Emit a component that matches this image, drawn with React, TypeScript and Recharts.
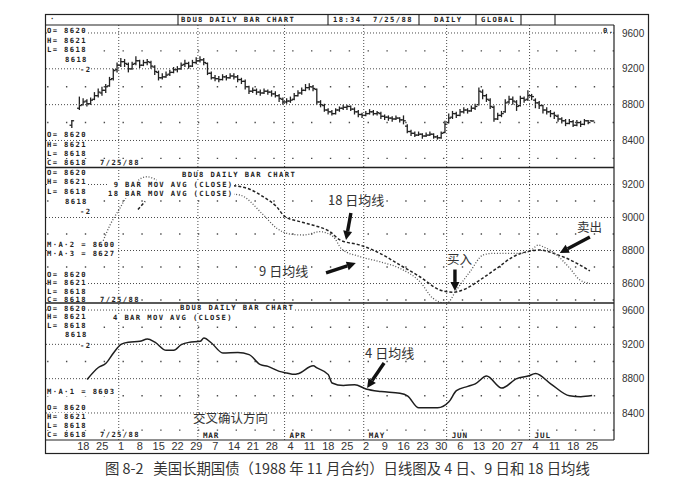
import React from 'react';
import { ComposedChart, Bar, Line, XAxis, YAxis, ReferenceLine } from 'recharts';

// ---------- DATA ----------
// trading-day index: 0 = Mon 18 Jan 1988, 135 = Mon 25 Jul 1988
const tradeDays = [-3, -1, ...Array.from({ length: 136 }, (_, k) => k)];

const opens = [
  8570, 8760,
  8800, 8840, 8810, 8860, 8900, 8930, 8960, 9010, 9090, 9190,
  9240, 9280, 9250, 9200, 9260, 9290, 9240, 9270, 9270, 9220,
  9160, 9100, 9110, 9140, 9160, 9190, 9200, 9250, 9260, 9230,
  9270, 9290, 9300, 9260, 9150, 9100, 9090, 9080, 9110, 9100,
  9120, 9110, 9080, 9060, 9000, 8950, 8960, 8940, 8930, 8950,
  8940, 8920, 8900, 8860, 8830, 8840, 8860, 8900, 8930, 8960,
  8990, 9000, 8970, 8830, 8790, 8740, 8720, 8700, 8740, 8760,
  8770, 8780, 8750, 8720, 8690, 8680, 8700, 8720, 8700, 8700,
  8670, 8660, 8650, 8640, 8650, 8630, 8560, 8500, 8480, 8460,
  8470, 8450, 8460, 8470, 8440, 8430, 8490, 8600, 8660, 8700,
  8680, 8720, 8740, 8730, 8760, 8800, 8940, 8900, 8850, 8770,
  8640, 8680, 8720, 8830, 8860, 8830, 8790, 8870, 8860, 8900,
  8850, 8820, 8790, 8740, 8720, 8700, 8670, 8640, 8620, 8590,
  8610, 8570, 8600, 8580, 8620, 8620,
];
const highs = [
  8630, 8890,
  8870, 8860, 8880, 8940, 8980, 9000, 9030, 9110, 9200, 9270,
  9320, 9310, 9270, 9280, 9340, 9300, 9300, 9310, 9290, 9240,
  9180, 9150, 9170, 9190, 9220, 9230, 9270, 9300, 9280, 9300,
  9330, 9340, 9320, 9270, 9170, 9130, 9120, 9140, 9130, 9150,
  9150, 9130, 9100, 9080, 9010, 8990, 8980, 8970, 8980, 8970,
  8960, 8950, 8920, 8880, 8870, 8890, 8930, 8960, 8990, 9030,
  9040, 9020, 8980, 8850, 8810, 8760, 8740, 8760, 8780, 8800,
  8800, 8790, 8770, 8740, 8710, 8730, 8750, 8740, 8730, 8720,
  8690, 8680, 8670, 8680, 8660, 8680, 8580, 8520, 8500, 8500,
  8480, 8490, 8500, 8480, 8460, 8500, 8620, 8700, 8730, 8720,
  8750, 8770, 8760, 8790, 8810, 8990, 8970, 8920, 8870, 8790,
  8710, 8730, 8860, 8900, 8890, 8850, 8900, 8890, 8960, 8920,
  8870, 8840, 8800, 8770, 8740, 8720, 8690, 8660, 8640, 8640,
  8630, 8630, 8620, 8640, 8630, 8621,
];
const lows = [
  8540, 8740,
  8790, 8780, 8800, 8850, 8880, 8900, 8930, 9000, 9070, 9160,
  9220, 9220, 9160, 9190, 9240, 9210, 9230, 9240, 9200, 9130,
  9070, 9080, 9100, 9120, 9150, 9160, 9190, 9220, 9200, 9220,
  9250, 9270, 9240, 9130, 9080, 9060, 9050, 9070, 9070, 9090,
  9080, 9050, 9030, 8970, 8920, 8930, 8910, 8900, 8920, 8910,
  8890, 8880, 8830, 8800, 8810, 8820, 8850, 8890, 8910, 8950,
  8960, 8950, 8800, 8770, 8720, 8690, 8680, 8690, 8720, 8740,
  8740, 8730, 8690, 8660, 8650, 8670, 8690, 8680, 8680, 8640,
  8630, 8620, 8610, 8630, 8600, 8580, 8480, 8450, 8440, 8450,
  8420, 8440, 8450, 8420, 8410, 8420, 8480, 8590, 8640, 8650,
  8670, 8700, 8700, 8720, 8740, 8790, 8860, 8830, 8750, 8610,
  8630, 8660, 8710, 8810, 8800, 8730, 8780, 8820, 8840, 8850,
  8760, 8750, 8700, 8690, 8660, 8640, 8610, 8590, 8560, 8580,
  8550, 8560, 8550, 8570, 8580, 8618,
];
const closes = [
  8620, 8790,
  8830, 8810, 8850, 8900, 8940, 8960, 9000, 9080, 9180, 9240,
  9280, 9260, 9200, 9250, 9290, 9240, 9270, 9280, 9230, 9170,
  9100, 9110, 9130, 9160, 9190, 9200, 9240, 9260, 9230, 9270,
  9290, 9300, 9270, 9150, 9100, 9090, 9080, 9110, 9100, 9120,
  9110, 9080, 9060, 9000, 8950, 8960, 8940, 8930, 8950, 8940,
  8920, 8900, 8870, 8830, 8840, 8850, 8900, 8930, 8960, 8990,
  9000, 8980, 8830, 8800, 8740, 8720, 8700, 8740, 8760, 8770,
  8780, 8750, 8720, 8690, 8680, 8700, 8720, 8700, 8710, 8670,
  8660, 8650, 8640, 8650, 8630, 8620, 8500, 8480, 8460, 8470,
  8450, 8460, 8470, 8440, 8430, 8480, 8580, 8650, 8700, 8680,
  8720, 8740, 8730, 8760, 8780, 8950, 8900, 8860, 8780, 8640,
  8680, 8700, 8820, 8860, 8840, 8780, 8870, 8850, 8900, 8890,
  8820, 8790, 8740, 8720, 8700, 8680, 8640, 8620, 8590, 8610,
  8570, 8600, 8580, 8620, 8600, 8618,
];

// 4-bar moving average
const ma4Days = [1, 4, 6, 8, 10, 12, 15, 17, 19, 22, 24, 26, 28, 31, 32, 34, 37, 41, 44, 47, 49, 52, 54, 56, 57, 61, 62, 65, 66, 69, 72, 75, 79, 84, 86, 89, 94, 97, 99, 102, 104, 107, 111, 115, 118, 120, 124, 129, 132, 135];
const ma4Values = [8790, 8930, 8980, 9100, 9200, 9225, 9235, 9262, 9225, 9130, 9130, 9196, 9223, 9235, 9274, 9216, 9100, 9106, 9080, 8963, 8943, 8885, 8866, 8850, 8858, 8950, 8925, 8847, 8750, 8720, 8730, 8680, 8650, 8630, 8600, 8460, 8460, 8530, 8660, 8710, 8740, 8830, 8690, 8800, 8830, 8860, 8740, 8600, 8590, 8603];

// 9-bar moving average (middle panel; hidden behind the legend text in between)
const ma9Days = [5, 7.1, 9.7, 12, 14.2, 16.8, 19.5, 20, 39.8, 41.6, 47.8, 51.3, 54.8, 58.4, 62.8, 66.3, 68.6, 73.4, 78.7, 84, 89.3, 92.8, 96.4, 99, 102.6, 106.1, 108.8, 112.3, 115.8, 118.9, 120.7, 122, 125.6, 129.1, 131.8, 134.4];
const ma9Values = [8844, 8955, 9056, 9147, 9217, 9247, 9227, null, 9141, 9136, 9015, 8935, 8900, 8894, 8914, 8884, 8808, 8763, 8732, 8692, 8611, 8510, 8480, 8561, 8672, 8773, 8783, 8783, 8783, 8803, 8833, 8823, 8773, 8692, 8621, 8601];

// 18-bar moving average
const ma18Days = [14.5, 16.4, 17, 39.8, 44.3, 47.7, 51.3, 53.5, 57.5, 61.5, 65.4, 68.1, 73.4, 78.7, 84, 89.3, 94.6, 98.1, 101.7, 105.2, 109.7, 114.1, 118.5, 121.1, 124.7, 128.2, 131.8, 134.4];
const ma18Values = [9049, 9098, null, 9193, 9170, 9126, 9065, 9005, 8975, 8950, 8915, 8864, 8833, 8783, 8712, 8641, 8561, 8547, 8571, 8621, 8692, 8763, 8797, 8803, 8783, 8753, 8712, 8676];

// x-axis: Mondays
const weekTicks = [0, 5, 10, 15, 20, 25, 30, 35, 40, 45, 50, 55, 60, 65, 70, 75, 80, 85, 90, 95, 100, 105, 110, 115, 120, 125, 130, 135];
const weekLabels = ['18', '25', '1', '8', '15', '22', '29', '7', '14', '21', '28', '4', '11', '18', '25', '2', '9', '16', '23', '30', '6', '13', '20', '27', '4', '11', '18', '25'];
const monthStarts = [10, 31, 54, 75, 97, 119];
const monthNames = ['', 'MAR', 'APR', 'MAY', 'JUN', 'JUL'];

// right axis ticks
const priceTicksWide = [8400, 8800, 9200, 9600];
const minorWide = [8200, 8600, 9000, 9400];
const priceTicksMid = [8600, 8800, 9000, 9200];
const minorMid = [8500, 8700, 8900, 9100];

// annotation arrows (data coordinates): panel, tail, head
const arrows = [
  { panel: 2, from: { x: 71, y: 9027 }, to: { x: 69.7, y: 8864 } },
  { panel: 2, from: { x: 64.4, y: 8664 }, to: { x: 72.3, y: 8724 } },
  { panel: 2, from: { x: 98.6, y: 8685 }, to: { x: 98.6, y: 8555 } },
  { panel: 2, from: { x: 134.4, y: 8882 }, to: { x: 126.4, y: 8785 } },
  { panel: 3, from: { x: 79.8, y: 8983 }, to: { x: 75.3, y: 8691 } },
];

// ---------- BUILD ----------
const ohlcData = tradeDays.map((d, k) => ({ i: d, open: opens[k], high: highs[k], low: lows[k], close: closes[k] }));
const ma4Data = ma4Days.map((d, k) => ({ i: d, v: ma4Values[k] }));
const ma9Data = ma9Days.map((d, k) => ({ i: d, v: ma9Values[k] }));
const ma18Data = ma18Days.map((d, k) => ({ i: d, v: ma18Values[k] }));

const X_DOMAIN: [number, number] = [-9.9, 140.8];
const PLOT_LEFT = 46;
const PLOT_W = 568;
const AXIS_W = 40;
const M0 = { top: 0, right: 0, bottom: 0, left: 0 };
const INK = '#222';
const GRID = '#4a4a4a';
const MONO = '"DejaVu Sans Mono", monospace';

const OhlcShape = (p: any) => {
  const { x, y, width, height, payload } = p;
  if (!payload || x == null || y == null) return <g />;
  const top = Math.min(y, y + height);
  const bot = Math.max(y, y + height);
  const cx = x + width / 2;
  const span = payload.high - payload.low;
  const pos = (v: number) => (span > 0 ? top + ((payload.high - v) / span) * (bot - top) : top);
  const oy = pos(payload.open);
  const cy = pos(payload.close);
  return (
    <g stroke={INK} strokeWidth={1.3}>
      <line x1={cx} x2={cx} y1={top} y2={Math.max(bot, top + 1)} />
      <line x1={cx - 2.3} x2={cx} y1={oy} y2={oy} />
      <line x1={cx} x2={cx + 2.3} y1={cy} y2={cy} />
    </g>
  );
};

const ArrowShape = (p: any) => {
  const { x1, y1, x2, y2 } = p;
  const dx = x2 - x1;
  const dy = y2 - y1;
  const len = Math.hypot(dx, dy) || 1;
  const ux = dx / len;
  const uy = dy / len;
  const hl = 9;
  const hw = 4.5;
  const bx = x2 - ux * hl;
  const by = y2 - uy * hl;
  return (
    <g>
      <line x1={x1} y1={y1} x2={bx} y2={by} stroke="#111" strokeWidth={3.4} />
      <polygon points={`${x2},${y2} ${bx - uy * hw},${by + ux * hw} ${bx + uy * hw},${by - ux * hw}`} fill="#111" />
    </g>
  );
};

function grid(major: number[], minor: number[], monthLabels: boolean) {
  const els: any[] = [];
  minor.forEach((v) =>
    els.push(<ReferenceLine key={'mn' + v} y={v} stroke={GRID} strokeWidth={1.4} strokeDasharray="1.4 17.45" />)
  );
  major.forEach((v) =>
    els.push(<ReferenceLine key={'mj' + v} y={v} stroke={GRID} strokeWidth={1} strokeDasharray="1 2" />)
  );
  monthStarts.forEach((m, k) =>
    els.push(
      <ReferenceLine
        key={'mo' + m}
        x={m - 0.6}
        stroke={GRID}
        strokeWidth={1}
        strokeDasharray="1 2"
        label={
          monthLabels && monthNames[k]
            ? (lp: any) => {
                const vb = lp.viewBox || {};
                return (
                  <text
                    x={(vb.x || 0) + 5}
                    y={(vb.y || 0) + (vb.height || 0) - 2.5}
                    fontFamily={MONO}
                    fontSize={7.6}
                    fontWeight="bold"
                    letterSpacing={0.9}
                    fill={INK}
                  >
                    {monthNames[k]}
                  </text>
                );
              }
            : undefined
        }
      />
    )
  );
  return els;
}

function arrowLines(panel: number) {
  return arrows
    .filter((a) => a.panel === panel)
    .map((a, k) => (
      <ReferenceLine
        key={'ar' + panel + k}
        segment={[a.from, a.to]}
        ifOverflow="visible"
        shape={ArrowShape}
      />
    ));
}

const yTick = { fontSize: 10, fill: '#333', fontFamily: '"Liberation Sans", Arial, sans-serif' };

const monoBase: React.CSSProperties = {
  position: 'absolute',
  fontFamily: MONO,
  fontSize: 7.2,
  fontWeight: 'bold',
  letterSpacing: '1.38px',
  lineHeight: '8px',
  height: 8,
  color: INK,
  whiteSpace: 'pre',
  background: '#fff',
};

const monoTexts: [string, number, number][] = [
  // header
  ['·', 50, 19],
  ['BDU8 DAILY BAR CHART', 181, 19.5],
  ['18:34  7/25/88', 333, 19.5],
  ['DAILY', 434, 19.5],
  ['GLOBAL', 481, 19.5],
  // panel 1
  ['O= 8620', 47, 31],
  ['H= 8621', 47, 41],
  ['L= 8618', 47, 50],
  ['8618', 65, 60],
  ['-2', 80, 70],
  ['O= 8620', 47, 135],
  ['H= 8621', 47, 145],
  ['L= 8618', 47, 154],
  ['C= 8618', 47, 163],
  ['7/25/88', 100, 163],
  // panel 2
  ['O= 8620', 47, 172.5],
  ['H= 8621', 47, 182],
  ['L= 8618', 47, 192],
  ['8618', 65, 202],
  ['-2', 80, 212],
  ['BDU8 DAILY BAR CHART', 182, 175],
  [' 9 BAR MOV AVG (CLOSE)', 108, 184.5],
  ['18 BAR MOV AVG (CLOSE)', 108, 194],
  ['M·A·2 = 8600', 47, 245],
  ['M·A·3 = 8627', 47, 254],
  ['O= 8620', 47, 274.5],
  ['H= 8621', 47, 283],
  ['L= 8618', 47, 291.5],
  ['C= 8618', 47, 300],
  ['7/25/88', 100, 300],
  // panel 3
  ['O= 8620', 47, 308.5],
  ['H= 8621', 47, 317],
  ['L= 8618', 47, 325.5],
  ['8618', 65, 335],
  ['-2', 80, 346],
  ['BDU8 DAILY BAR CHART', 180, 308],
  ['4 BAR MOV AVG (CLOSE)', 113, 318],
  ['M·A·1 = 8603', 47, 392],
  ['O= 8620', 47, 408],
  ['H= 8621', 47, 417],
  ['L= 8618', 47, 426],
  ['C= 8618', 47, 435],
  ['7/25/88', 100, 435],
];

const cjkTexts: [string, number, number, number][] = [
  ['18 日均线', 328, 200, 13],
  ['9 日均线', 259, 271, 13],
  ['买入', 447, 259, 12.5],
  ['卖出', 577, 227, 12.5],
  ['4 日均线', 365, 353, 13],
  ['交叉确认方向', 193, 418, 12.5],
];

const headerCells = [178, 328, 419, 476, 521, 555];

export default function App() {
  return (
    <div style={{ position: 'absolute', left: 0, top: 0, width: 689, height: 504, background: '#fff', overflow: 'hidden' }}>
      {/* Panel 1: daily OHLC bars */}
      <div style={{ position: 'absolute', left: PLOT_LEFT, top: 25 }}>
        <ComposedChart width={PLOT_W + AXIS_W} height={142} data={ohlcData} margin={M0}>
          <XAxis dataKey="i" type="number" domain={X_DOMAIN} allowDataOverflow hide />
          <YAxis orientation="right" width={AXIS_W} domain={[8104, 9689]} allowDataOverflow ticks={priceTicksWide} interval={0} tickLine={false} axisLine={false} tick={yTick} />
          {grid(priceTicksWide, minorWide, false)}
          <Bar dataKey={(d: any) => [d.low, d.high]} barSize={5} shape={OhlcShape} isAnimationActive={false} />
        </ComposedChart>
      </div>

      {/* Panel 2: 9 and 18 bar moving averages */}
      <div style={{ position: 'absolute', left: PLOT_LEFT, top: 167 }}>
        <ComposedChart width={PLOT_W + AXIS_W} height={136} margin={M0}>
          <XAxis dataKey="i" type="number" domain={X_DOMAIN} allowDataOverflow hide />
          <YAxis orientation="right" width={AXIS_W} domain={[8482, 9306]} allowDataOverflow ticks={priceTicksMid} interval={0} tickLine={false} axisLine={false} tick={yTick} />
          {grid(priceTicksMid, minorMid, false)}
          <Line data={ma18Data} dataKey="v" type="monotone" stroke="#222" strokeWidth={1.5} strokeDasharray="3 2" dot={false} isAnimationActive={false} />
          <Line data={ma9Data} dataKey="v" type="monotone" stroke="#555" strokeWidth={1.3} strokeDasharray="1 1.8" dot={false} isAnimationActive={false} />
          {arrowLines(2)}
        </ComposedChart>
      </div>

      {/* Panel 3: 4 bar moving average */}
      <div style={{ position: 'absolute', left: PLOT_LEFT, top: 303 }}>
        <ComposedChart width={PLOT_W + AXIS_W} height={151} margin={M0}>
          <XAxis
            dataKey="i"
            type="number"
            domain={X_DOMAIN}
            allowDataOverflow
            ticks={weekTicks}
            interval={0}
            tickFormatter={(v: number) => weekLabels[weekTicks.indexOf(v)] ?? ''}
            tickLine={false}
            axisLine={false}
            height={14}
            tickSize={0}
            tickMargin={2}
            tick={{ fontSize: 11, fill: '#333', fontFamily: '"Liberation Sans", Arial, sans-serif' }}
          />
          <YAxis orientation="right" width={AXIS_W} domain={[8085, 9682]} allowDataOverflow ticks={priceTicksWide} interval={0} tickLine={false} axisLine={false} tick={yTick} />
          {grid(priceTicksWide, minorWide, true)}
          <Line data={ma4Data} dataKey="v" type="monotone" stroke="#1e1e1e" strokeWidth={1.5} dot={false} isAnimationActive={false} />
          {arrowLines(3)}
        </ComposedChart>
      </div>

      {/* dot-matrix style texts */}
      {monoTexts.map(([t, x, cy], k) => (
        <div key={'mt' + k} style={{ ...monoBase, left: x, top: cy - 4 }}>
          {t}
        </div>
      ))}
      <div style={{ ...monoBase, left: 603, top: 27, background: 'transparent' }}>0.</div>

      {/* Chinese annotations */}
      {cjkTexts.map(([t, x, cy, fs], k) => (
        <div
          key={'cj' + k}
          style={{
            position: 'absolute',
            left: x,
            top: cy - fs * 0.72,
            fontFamily: '"Noto Sans CJK SC", sans-serif',
            fontSize: fs,
            lineHeight: 1.4 + '',
            color: '#333',
            whiteSpace: 'pre',
          }}
        >
          {t}
        </div>
      ))}

      {/* frame */}
      <svg width={689} height={504} style={{ position: 'absolute', left: 0, top: 0, pointerEvents: 'none' }}>
        <rect x={45.5} y={14.5} width={603} height={439} fill="none" stroke={INK} strokeWidth={1.2} />
        <line x1={45} x2={614} y1={25} y2={25} stroke={INK} strokeWidth={1.2} />
        {headerCells.map((x) => (
          <line key={'hc' + x} x1={x} x2={x} y1={14} y2={25} stroke={INK} strokeWidth={1.1} />
        ))}
        <line x1={614} x2={614} y1={25} y2={440} stroke={INK} strokeWidth={1.2} />
        <line x1={45} x2={614} y1={167.5} y2={167.5} stroke={INK} strokeWidth={1.6} />
        <line x1={45} x2={614} y1={303} y2={303} stroke={INK} strokeWidth={1.6} />
        <line x1={45} x2={614} y1={440} y2={440} stroke={INK} strokeWidth={1.2} />
      </svg>

      {/* caption */}
      <div
        style={{
          position: 'absolute',
          left: 105,
          top: 459,
          fontFamily: '"Noto Sans CJK SC", sans-serif',
          fontSize: 14.4,
          lineHeight: '18px',
          color: '#333',
          whiteSpace: 'pre',
        }}
      >
        {'图 8-2   美国长期国债（1988 年 11 月合约）日线图及 4 日、9 日和 18 日均线'}
      </div>
    </div>
  );
}
